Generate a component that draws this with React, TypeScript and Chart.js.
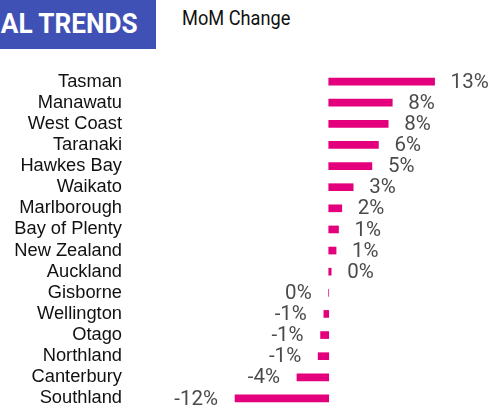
import React, { useEffect, useRef } from "react";
import { Chart, registerables } from "chart.js";

Chart.register(...registerables);

const regions = [
  "Tasman",
  "Manawatu",
  "West Coast",
  "Taranaki",
  "Hawkes Bay",
  "Waikato",
  "Marlborough",
  "Bay of Plenty",
  "New Zealand",
  "Auckland",
  "Gisborne",
  "Wellington",
  "Otago",
  "Northland",
  "Canterbury",
  "Southland",
];

const momChange = [13.0, 7.8, 7.3, 6.1, 5.3, 3.0, 1.6, 1.2, 0.9, 0.3, -0.01, -0.6, -1.0, -1.3, -3.9, -11.5];

const valueLabels = ["13%", "8%", "8%", "6%", "5%", "3%", "2%", "1%", "1%", "0%", "0%", "-1%", "-1%", "-1%", "-4%", "-12%"];

const headerTitle = "REGIONAL TRENDS";
const chartTitle = "MoM Change";

const BAR_COLOR = "#e4007c";

const valueLabelPlugin = {
  id: "valueLabels",
  afterDatasetsDraw(chart: any) {
    const ctx = chart.ctx;
    const meta = chart.getDatasetMeta(0);
    ctx.save();
    ctx.font = "20.5px Roboto";
    ctx.fillStyle = "#4a4a4a";
    ctx.textBaseline = "middle";
    meta.data.forEach((el: any, i: number) => {
      const v = momChange[i];
      const y = el.y + 1;
      if (v >= 0) {
        ctx.textAlign = "left";
        ctx.fillText(valueLabels[i], Math.max(el.x, el.base) + 16, y);
      } else {
        ctx.textAlign = "right";
        ctx.fillText(valueLabels[i], Math.min(el.x, el.base) - 17, y);
      }
    });
    ctx.restore();
  },
};

function BarChart() {
  const ref = useRef<HTMLCanvasElement | null>(null);
  useEffect(() => {
    if (!ref.current) return;
    const chart = new Chart(ref.current, {
      type: "bar",
      data: {
        labels: regions,
        datasets: [
          {
            data: momChange,
            backgroundColor: BAR_COLOR,
            barThickness: 7,
          },
        ],
      },
      options: {
        indexAxis: "y",
        animation: false,
        responsive: false,
        maintainAspectRatio: false,
        layout: { padding: { left: 0, right: 11, top: 0, bottom: 0 } },
        plugins: {
          legend: { display: false },
          tooltip: { enabled: false },
          title: { display: false },
        },
        scales: {
          x: {
            display: false,
            min: -24.4,
            max: 19.8,
          },
          y: {
            grid: { display: false, drawTicks: false },
            border: { display: false },
            ticks: {
              padding: 8,
              color: "#111",
              font: { family: "'Liberation Sans', Arial, sans-serif", size: 18.3 },
              autoSkip: false,
            },
            afterFit: (axis: any) => {
              axis.width = 130;
              axis.paddingTop = 0;
              axis.paddingBottom = 0;
            },
          },
        },
      },
      plugins: [valueLabelPlugin],
    } as any);
    return () => chart.destroy();
  }, []);
  return <canvas ref={ref} width={501} height={338} style={{ position: "absolute", left: 0, top: 71, width: 501, height: 338 }} />;
}

export default function App() {
  return (
    <div
      style={{
        position: "absolute",
        left: 0,
        top: 0,
        width: 501,
        height: 406,
        overflow: "hidden",
        background: "#fff",
      }}
    >
      <div
        style={{
          position: "absolute",
          left: 0,
          top: 0,
          width: 156,
          height: 49,
          background: "#3f51b5",
          overflow: "hidden",
        }}
      >
        <span
          style={{
            position: "absolute",
            right: 18,
            top: 7,
            whiteSpace: "nowrap",
            color: "#fff",
            fontFamily: "Roboto, sans-serif",
            fontWeight: 700,
            fontSize: 28,
            lineHeight: "34px",
            transform: "scaleX(0.935)",
            transformOrigin: "right center",
          }}
        >
          {headerTitle}
        </span>
      </div>
      <div
        style={{
          position: "absolute",
          left: 182,
          top: 6,
          whiteSpace: "nowrap",
          color: "#111",
          fontFamily: "Roboto, sans-serif",
          fontSize: 20,
          lineHeight: "24px",
          transform: "scaleX(0.91)",
          transformOrigin: "left center",
        }}
      >
        {chartTitle}
      </div>
      <BarChart />
    </div>
  );
}
